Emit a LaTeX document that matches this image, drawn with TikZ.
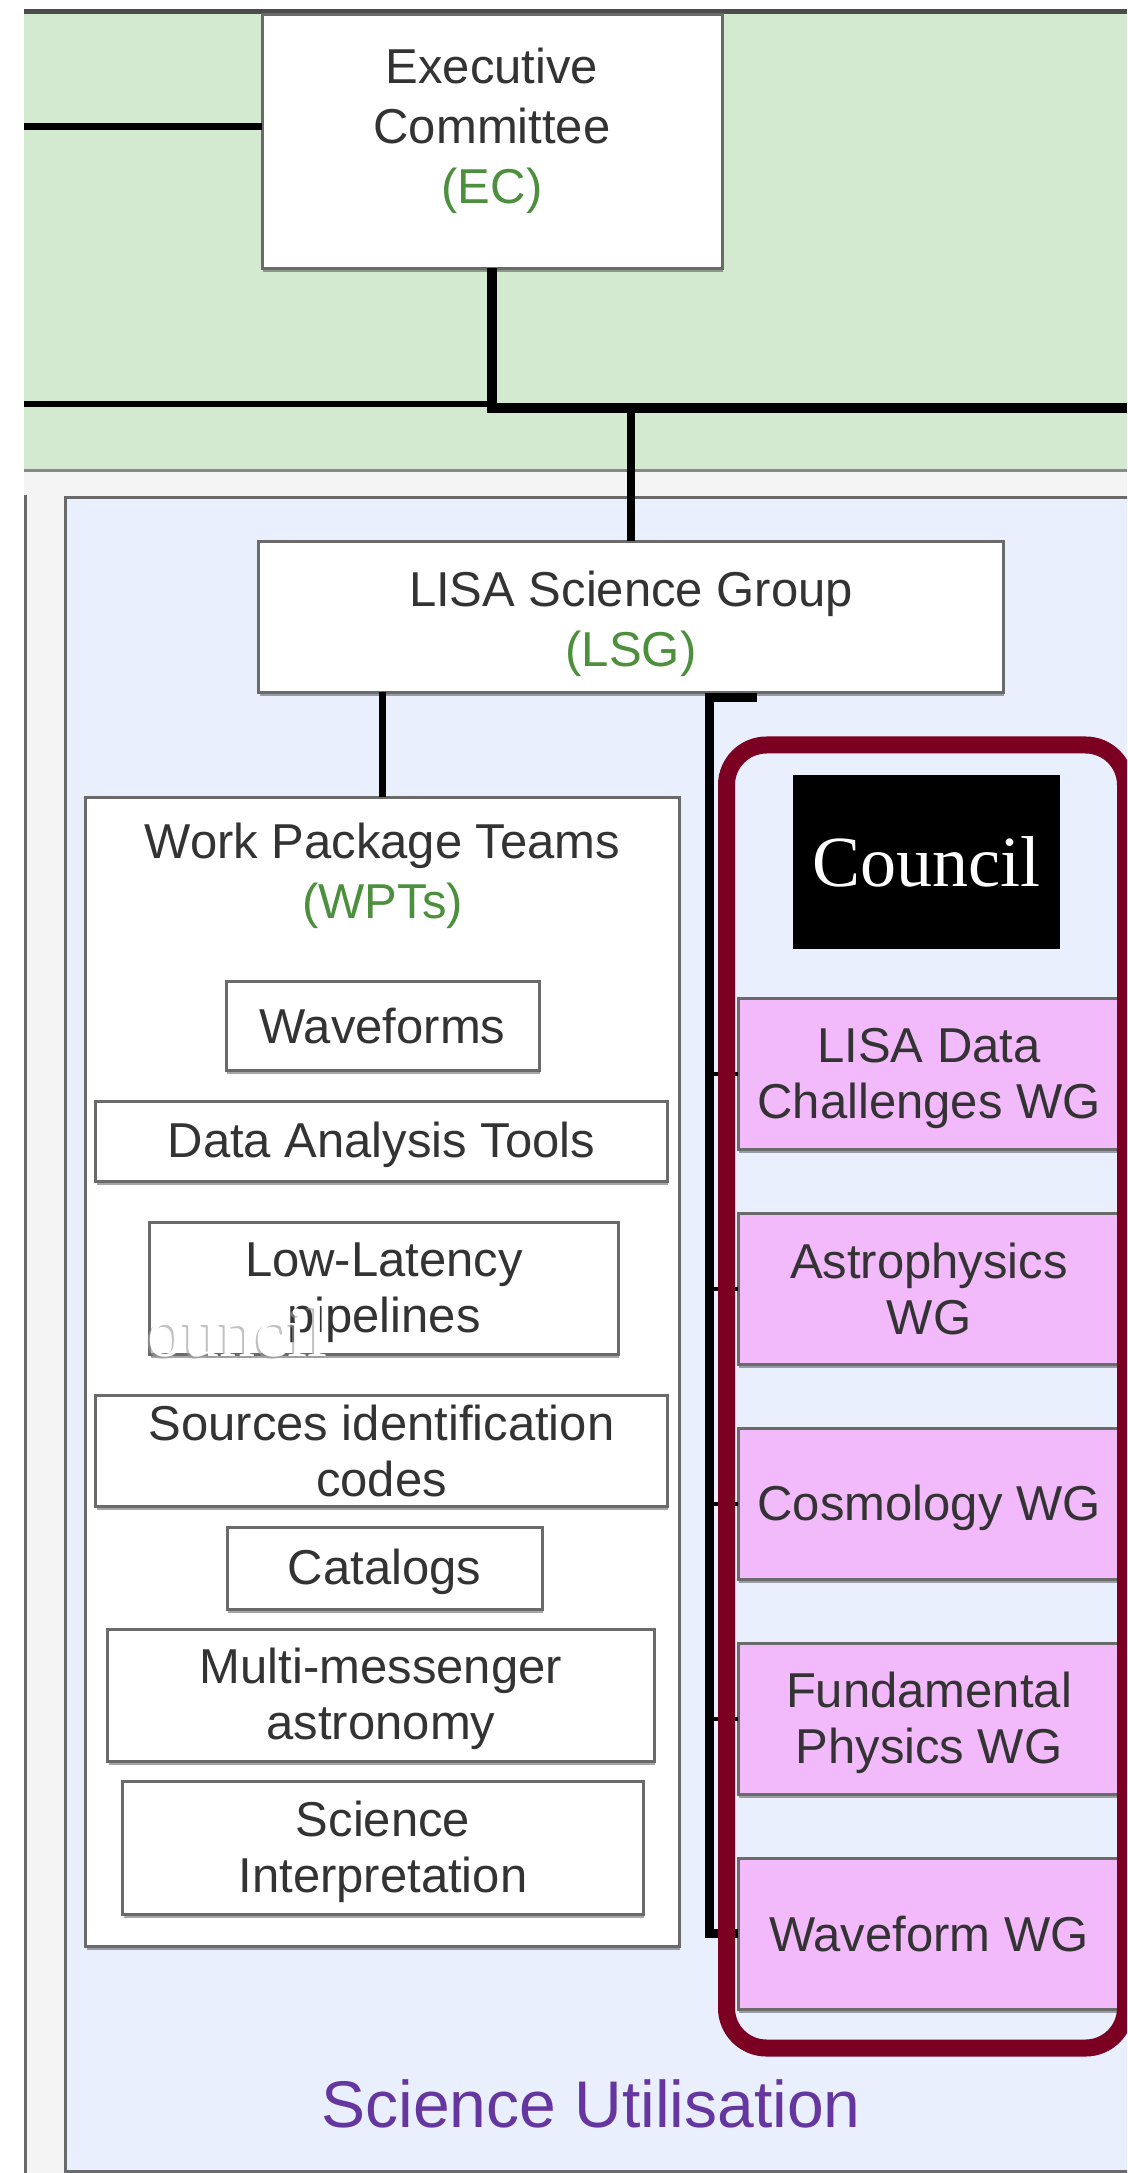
\documentclass[tikz,border=0pt]{standalone}
\usepackage{fontspec}
\setmainfont{Liberation Sans}
\newfontfamily\councilfont{Liberation Serif}
\usetikzlibrary{shadows}

\definecolor{greenbg}{HTML}{D4EAD0}
\definecolor{bluebg}{HTML}{E9EFFC}
\definecolor{graybg}{HTML}{F4F4F4}
\definecolor{wgpink}{HTML}{F2B9FB}
\definecolor{framered}{HTML}{7B0022}
\definecolor{acr}{HTML}{4C8F3C}
\definecolor{sulabel}{HTML}{6636A0}
\definecolor{boxline}{HTML}{6A6A6A}
\definecolor{txt}{HTML}{333333}

% strut that fixes the height and depth of every text line
\newcommand\linestrut{\rule[-8bp]{0pt}{52bp}}
\newcommand\boxfont{\fontsize{49bp}{56bp}\selectfont}
\newcommand\titlefont{\fontsize{49bp}{60bp}\selectfont}

\tikzset{
  box/.style={draw=boxline, line width=3bp, fill=white, inner sep=0pt, outer sep=0pt,
    align=center, text=txt, font=\boxfont,
    drop shadow={shadow xshift=1bp, shadow yshift=-4bp, opacity=0.35, fill=black}},
  wgbox/.style={box, fill=wgpink},
  titletext/.style={inner sep=0pt, align=center, text=txt, font=\titlefont},
  conn/.style={draw=black, line width=7bp},
  frame/.style={draw=framered, line width=17bp, rounded corners=40bp, inner sep=0pt},
  councilbox/.style={fill=black, text=white, inner sep=0pt,
    font=\councilfont\fontsize{72bp}{80bp}\selectfont},
}

\begin{document}
\begin{tikzpicture}[x=1bp, y=-1bp]
\useasboundingbox (0,0) rectangle (1127,2173);
\clip (0,0) rectangle (1127,2173);
\fill[white] (0,0) rectangle (1127,2173);

% outer grey container and its left edge
\fill[graybg] (24,470) rectangle (1127,2173);
\draw[boxline, line width=3bp] (25.5,495) -- (25.5,2173);

% green management band
\fill[greenbg] (24,12) rectangle (1127,470);
\draw[black!70, line width=5bp] (24,12) -- (1127,12);
\draw[boxline!80, line width=3bp] (24,470) -- (1127,470);

% blue science utilisation panel
\filldraw[fill=bluebg, draw=boxline, line width=3bp] (65,497) rectangle (1140,2171);

% boxes
\node[box, minimum width=460bp, minimum height=253bp] (EC) at (492,141.5) {};
\node[box, minimum width=744bp, minimum height=151bp] (LSG) at (631,616.5) {};
\node[box, minimum width=593bp, minimum height=1149bp] (WPT) at (382.5,1371.5) {};

% connectors of the upper part
\coordinate (ecW) at (24,127);
\coordinate (busW) at (24,404);
\coordinate (busE) at (1127,408);
\draw[conn] (ecW) -- (ecW -| EC.west);
\draw[conn, line width=6bp] (busW) -- (busW -| EC.south);
\draw[conn, line width=10bp] (EC.south) |- (busE);
\draw[conn, line width=8bp] (LSG.north) -- (LSG.north |- busE);
\draw[conn] (LSG.south -| WPT.north) -- (WPT.north);

% texts of the main boxes
\node[titletext] (ECt) at (492,127) {\linestrut Executive\\\linestrut Committee\\\linestrut\textcolor{acr}{(EC)}};
\node[titletext] (LSGt) at (631,620) {\linestrut LISA Science Group\\\linestrut\textcolor{acr}{(LSG)}};
\node[titletext] (WPTt) at (382.5,872) {\linestrut Work Package Teams\\\linestrut\textcolor{acr}{(WPTs)}};

% work package teams
\node[box, minimum width=313bp, minimum height=89bp] (wf) at (382.5,1025.5) {\linestrut Waveforms};
\node[box, minimum width=571bp, minimum height=80bp] (dat) at (381.5,1141) {\linestrut Data Analysis Tools};
\node[box, minimum width=468bp, minimum height=132bp] (llp) at (384,1288) {\linestrut Low-Latency\\\linestrut pipelines};
\node[box, minimum width=571bp, minimum height=111bp] (sic) at (381.5,1450.5) {\linestrut Sources identification\\\linestrut codes};
\node[box, minimum width=315bp, minimum height=82bp] (cat) at (384.5,1568) {\linestrut Catalogs};
\node[box, minimum width=546bp, minimum height=132bp] (mma) at (381,1695) {\linestrut Multi-messenger\\\linestrut astronomy};
\node[box, minimum width=520bp, minimum height=133bp] (sci) at (383,1847.5) {\linestrut Science\\\linestrut Interpretation};

% working groups
\node[wgbox, minimum width=382bp, minimum height=151bp] (WG1) at (929,1073.5) {\linestrut LISA Data\\\linestrut Challenges WG};
\node[wgbox, minimum width=382bp, minimum height=151bp] (WG2) at (929,1288.5) {\linestrut Astrophysics\\\linestrut WG};
\node[wgbox, minimum width=382bp, minimum height=151bp] (WG3) at (929,1503.5) {\linestrut Cosmology WG};
\node[wgbox, minimum width=382bp, minimum height=151bp] (WG4) at (929,1718.5) {\linestrut Fundamental\\\linestrut Physics WG};
\node[wgbox, minimum width=382bp, minimum height=151bp] (WG5) at (929,1933.5) {\linestrut Waveform WG};

% spine from the LSG to the working groups
\coordinate (stubE) at (757,697);
\coordinate (spine) at (709,697);
\draw[conn, line width=9bp, line join=miter] (stubE) -- (spine) |- (WG5.west);
\foreach \w in {WG1,WG2,WG3,WG4}
  \draw[conn, line width=4bp] (spine |- \w.west) -- (\w.west);

% council frame
\node[frame, minimum width=399bp, minimum height=1303bp] (frame) at (926,1396.5) {};
\node[councilbox, minimum width=267bp, minimum height=174bp] (council) at (926.5,862) {Council};

% stray white lettering over the pipelines box
\node[anchor=base west, inner sep=0pt, text=black!40, opacity=0.6,
  font=\councilfont\fontsize{72bp}{80bp}\selectfont] (ghostsh) at (145,1358) {ouncil};
\node[anchor=base west, inner sep=0pt, text=white,
  font=\councilfont\fontsize{72bp}{80bp}\selectfont] (ghost) at (147,1356) {ouncil};

% panel caption
\node[anchor=base, inner sep=0pt, text=sulabel, font=\fontsize{66bp}{70bp}\selectfont] (su) at (591,2127) {Science Utilisation};
\end{tikzpicture}
\end{document}
